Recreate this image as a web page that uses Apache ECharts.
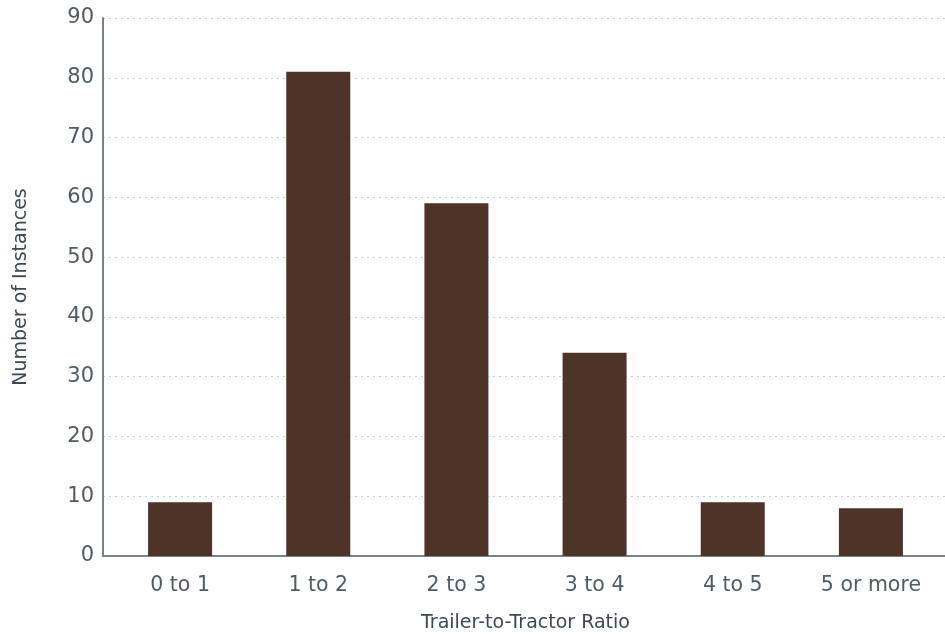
<!DOCTYPE html>
<html><head><meta charset="utf-8">
<script src="https://cdn.jsdelivr.net/npm/echarts@6/dist/echarts.min.js"></script>
<style>html,body{margin:0;padding:0;background:#fff}#c{width:945px;height:636px}</style>
</head><body><div id="c"></div>
<script>
const categories = ['0 to 1','1 to 2','2 to 3','3 to 4','4 to 5','5 or more'];
const values = [9, 81, 59, 34, 9, 8];
const xTitle = 'Trailer-to-Tractor Ratio';
const yTitle = 'Number of Instances';
const chart = echarts.init(document.getElementById('c'));
const txt = '#505b66';
const ttl = '#3e4852';
const font = 'DejaVu Sans';
chart.setOption({
  animation: false,
  grid: [
    {left: 111, right: 5, top: 18, bottom: 80, containLabel: false, outerBoundsMode: 'none'},
    {left: 103, right: 0, top: 18, bottom: 80, containLabel: false, outerBoundsMode: 'none'}
  ],
  xAxis: [{
    gridIndex: 0, type: 'category', data: categories,
    name: xTitle, nameLocation: 'middle', nameGap: 58,
    nameTextStyle: {color: ttl, fontSize: 19, fontWeight: 'normal', fontFamily: font},
    axisLine: {show: false},
    axisTick: {show: false},
    axisLabel: {color: txt, fontSize: 20.5, fontWeight: 'normal', fontFamily: font, margin: 19}
  }, {
    gridIndex: 1, type: 'value', min: 0, max: 1,
    axisLine: {show: true, onZero: false, lineStyle: {color: '#7a828a', width: 2}},
    axisTick: {show: false}, axisLabel: {show: false}, splitLine: {show: false}
  }],
  yAxis: [{
    gridIndex: 0, type: 'value', min: 0, max: 90, interval: 10, show: false
  }, {
    gridIndex: 1, type: 'value', min: 0, max: 90, interval: 10,
    name: yTitle, nameLocation: 'middle', nameGap: 72,
    nameTextStyle: {color: ttl, fontSize: 19, fontWeight: 'normal', fontFamily: font},
    axisLine: {show: true, lineStyle: {color: '#7a828a', width: 2}},
    axisTick: {show: false},
    axisLabel: {color: txt, fontSize: 21, fontWeight: 'normal', fontFamily: font, margin: 9},
    splitLine: {lineStyle: {color: '#c8cccf', type: [2, 4], width: 1}}
  }],
  series: [{
    type: 'bar', data: values, barWidth: 64, xAxisIndex: 0, yAxisIndex: 0,
    itemStyle: {color: '#4e3328'}
  }]
});
</script></body></html>
